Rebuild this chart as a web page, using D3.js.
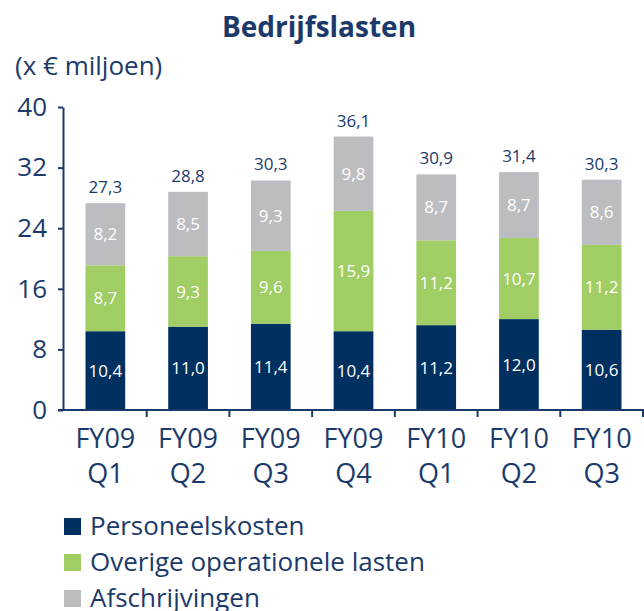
<!DOCTYPE html>
<html>
<head>
<meta charset="utf-8">
<script src="https://cdn.jsdelivr.net/npm/d3@7"></script>
<style>
  body { margin: 0; background: #fff; }
  svg { display: block; font-family: "Open Sans", "Noto Sans", sans-serif; }
</style>
</head>
<body>
<div id="chart"></div>
<script>
// quarters on the x axis (two lines each)
const years = ["FY09", "FY09", "FY09", "FY09", "FY10", "FY10", "FY10"];
const quarters = ["Q1", "Q2", "Q3", "Q4", "Q1", "Q2", "Q3"];

// stacked series, bottom to top
const personeelskosten = [10.4, 11.0, 11.4, 10.4, 11.2, 12.0, 10.6];
const overigeLasten = [8.7, 9.3, 9.6, 15.9, 11.2, 10.7, 11.2];
const afschrijvingen = [8.2, 8.5, 9.3, 9.8, 8.7, 8.7, 8.6];

// totals as printed above the bars
const totals = [27.3, 28.8, 30.3, 36.1, 30.9, 31.4, 30.3];

const seriesNames = ["Personeelskosten", "Overige operationele lasten", "Afschrijvingen"];
const yTicks = [0, 8, 16, 24, 32, 40];

const colors = ["#00305f", "#a0cd64", "#bcbdc0"];
const textColor = "#1b3a6b";

var width = 644;
var height = 611;

let svg = d3.select("#chart")
  .append("svg")
  .attr("width", width)
  .attr("height", height);

// build rows for d3.stack
let rows = quarters.map((q, i) => ({
  key: i,
  a: personeelskosten[i],
  b: overigeLasten[i],
  c: afschrijvingen[i]
}));
let stacked = d3.stack().keys(["a", "b", "c"])(rows);

var xScale = d3.scaleBand()
  .domain(d3.range(quarters.length))
  .range([64, 643])
  .paddingInner(0.52)
  .paddingOuter(0.26);

var yScale = d3.scaleLinear().domain([0, 40]).range([410, 107]);

const fmt = (v) => d3.format(".1f")(v).replace(".", ",");

// title + unit
svg.append("text")
  .attr("x", 319).attr("y", 37)
  .attr("text-anchor", "middle")
  .attr("font-size", 28).attr("font-weight", "bold")
  .attr("fill", textColor)
  .text("Bedrijfslasten");

svg.append("text")
  .attr("x", 15).attr("y", 75)
  .attr("font-size", 26)
  .attr("fill", textColor)
  .text("(x € miljoen)");

// bars
svg.selectAll(".layer")
  .data(stacked)
  .enter().append("g")
  .attr("class", "layer")
  .attr("fill", (d, i) => colors[i])
  .selectAll("rect")
  .data((d) => d)
  .enter().append("rect")
  .attr("x", (d, i) => xScale(i))
  .attr("width", xScale.bandwidth())
  .attr("y", (d) => yScale(d[1]))
  .attr("height", (d) => yScale(d[0]) - yScale(d[1]));

// value labels inside segments
stacked.forEach((layer) => {
  svg.append("g")
    .selectAll("text")
    .data(layer)
    .enter().append("text")
    .attr("x", (d, i) => xScale(i) + xScale.bandwidth() / 2)
    .attr("y", (d) => yScale((d[0] + d[1]) / 2))
    .attr("dy", "0.36em")
    .attr("text-anchor", "middle")
    .attr("font-size", 17)
    .attr("fill", "#fff")
    .text((d) => fmt(d[1] - d[0]));
});

// totals above the bars
let topLayer = stacked[stacked.length - 1];
svg.append("g")
  .selectAll("text")
  .data(totals)
  .enter().append("text")
  .attr("x", (d, i) => xScale(i) + xScale.bandwidth() / 2)
  .attr("y", (d, i) => yScale(topLayer[i][1]) - 10)
  .attr("text-anchor", "middle")
  .attr("font-size", 17)
  .attr("font-weight", 500)
  .attr("fill", textColor)
  .text((d) => fmt(d));

// y axis
let yAxis = svg.append("g")
  .attr("transform", "translate(63,0)")
  .call(d3.axisLeft(yScale).tickValues(yTicks).tickSize(5).tickPadding(11).tickSizeOuter(0));
yAxis.select(".domain").attr("stroke", textColor).attr("stroke-width", 2);
yAxis.selectAll(".tick line").attr("stroke", textColor).attr("stroke-width", 2);
yAxis.selectAll(".tick text")
  .attr("font-size", 26)
  .attr("font-family", "Open Sans, sans-serif")
  .attr("fill", textColor);

// x axis: baseline plus ticks between the categories
svg.append("line")
  .attr("x1", 58).attr("x2", 644)
  .attr("y1", yScale(0)).attr("y2", yScale(0))
  .attr("stroke", textColor).attr("stroke-width", 2);

svg.append("g")
  .selectAll("line")
  .data(d3.range(1, quarters.length + 1))
  .enter().append("line")
  .attr("x1", (i) => xScale.range()[0] + i * xScale.step())
  .attr("x2", (i) => xScale.range()[0] + i * xScale.step())
  .attr("y1", yScale(0)).attr("y2", yScale(0) + 7)
  .attr("stroke", textColor).attr("stroke-width", 2);

let xLabels = svg.append("g")
  .selectAll("text")
  .data(quarters)
  .enter().append("text")
  .attr("x", (d, i) => xScale(i) + xScale.bandwidth() / 2)
  .attr("y", 448)
  .attr("text-anchor", "middle")
  .attr("font-size", 27)
  .attr("fill", textColor);
xLabels.append("tspan").text((d, i) => years[i]);
xLabels.append("tspan")
  .attr("x", (d, i) => xScale(i) + xScale.bandwidth() / 2)
  .attr("dy", 35)
  .text((d) => d);

// legend
let legend = svg.append("g")
  .selectAll("g")
  .data(seriesNames)
  .enter().append("g")
  .attr("transform", (d, i) => "translate(64," + (518 + i * 36) + ")");

legend.append("rect")
  .attr("width", 17).attr("height", 17)
  .attr("fill", (d, i) => colors[i]);

legend.append("text")
  .attr("x", 26).attr("y", 17)
  .attr("font-size", 26)
  .attr("fill", textColor)
  .text((d) => d);
</script>
</body>
</html>
